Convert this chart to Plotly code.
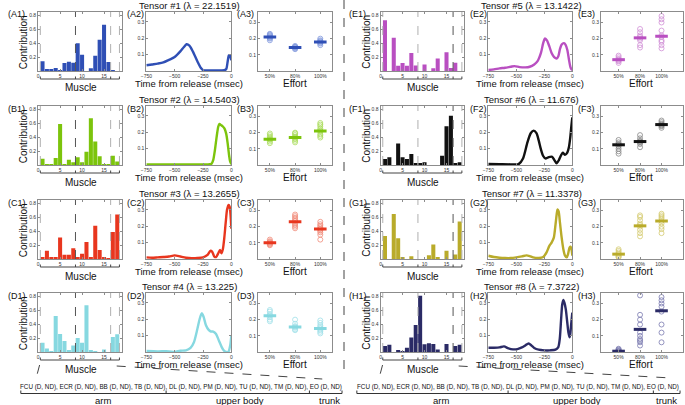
import plotly.graph_objects as go

W, H = 685, 405

letters = ["A", "B", "C", "D", "E", "F", "G", "H"]
lambdas = ["22.1519", "14.5403", "13.2655", "13.225", "13.1422", "11.676", "11.3378", "7.3722"]
colors = ["#2f4fb5", "#7cc40c", "#e8361e", "#86d8e0", "#b94fc1", "#111111", "#b9ab2a", "#2b2b66"]
light = ["#7f97dc", "#a9dc5c", "#f08a78", "#9fe0e8", "#d08fd6", "#888888", "#d4ca70", "#7a7ab0"]

# muscle contributions (muscles 1..18)
muscles = list(range(1, 19))
contrib_1 = [0.14, 0.02, 0.025, 0.045, 0.005, 0.115, 0.135, 0.12, 0.40, 0.235, 0.0, 0.04, 0.22, 0.45, 0.665, 0.13, 0.005, 0.0]
contrib_2 = [0.09, 0.01, 0.01, 0.10, 0.59, 0.01, 0.075, 0.04, 0.11, 0.04, 0.19, 0.675, 0.34, 0.125, 0.01, 0.01, 0.135, 0.05]
contrib_3 = [0.015, 0.12, 0.02, 0.02, 0.31, 0.06, 0.06, 0.155, 0.02, 0.075, 0.245, 0.02, 0.48, 0.13, 0.03, 0.005, 0.39, 0.64]
contrib_4 = [0.135, 0.05, 0.01, 0.52, 0.26, 0.16, 0.02, 0.095, 0.20, 0.135, 0.675, 0.02, 0.005, 0.0, 0.035, 0.0, 0.215, 0.255]
contrib_5 = [0.73, 0.0, 0.48, 0.075, 0.115, 0.075, 0.26, 0.08, 0.0, 0.095, 0.0, 0.04, 0.18, 0.0, 0.27, 0.045, 0.12, 0.0]
contrib_6 = [0.085, 0.11, 0.0, 0.31, 0.11, 0.085, 0.16, 0.02, 0.02, 0.04, 0.0, 0.0, 0.0, 0.135, 0.56, 0.71, 0.02, 0.04]
contrib_7 = [0.33, 0.0, 0.65, 0.30, 0.03, 0.0, 0.04, 0.0, 0.0, 0.0, 0.055, 0.21, 0.02, 0.0, 0.12, 0.0, 0.065, 0.54]
contrib_8 = [0.085, 0.105, 0.0, 0.025, 0.01, 0.06, 0.21, 0.39, 0.81, 0.11, 0.125, 0.115, 0.035, 0.0, 0.115, 0.0, 0.085, 0.105]

# time courses (msec before release, value)
time_1 = [-750, -700, -650, -600, -550, -500, -450, -420, -395, -370, -340, -300, -270, -250, -200, -150, -100, -60, -45, -32, -22, -12, 0]
course_1 = [0.035, 0.040, 0.045, 0.052, 0.068, 0.085, 0.120, 0.145, 0.163, 0.155, 0.120, 0.060, 0.020, 0.006, 0.004, 0.004, 0.004, 0.005, 0.012, 0.060, 0.095, 0.092, 0.065]
time_2 = [-750, -600, -450, -300, -200, -175, -160, -145, -130, -115, -105, -90, -75, -60, -45, -32, -20, -10, 0]
course_2 = [0.003, 0.003, 0.003, 0.003, 0.004, 0.008, 0.03, 0.09, 0.17, 0.235, 0.25, 0.243, 0.235, 0.222, 0.19, 0.13, 0.06, 0.02, 0.005]
time_3 = [-750, -700, -650, -600, -550, -500, -450, -400, -350, -300, -250, -210, -185, -170, -150, -135, -115, -100, -88, -75, -62, -50, -38, -25, -15, -7, 0]
course_3 = [0.010, 0.008, 0.010, 0.012, 0.015, 0.022, 0.015, 0.008, 0.005, 0.006, 0.010, 0.025, 0.050, 0.045, 0.015, 0.012, 0.035, 0.055, 0.035, 0.060, 0.130, 0.220, 0.300, 0.330, 0.320, 0.270, 0.185]
time_4 = [-750, -650, -550, -500, -450, -400, -360, -330, -300, -280, -262, -245, -225, -200, -180, -160, -135, -110, -85, -65, -45, -25, -10, 0]
course_4 = [0.006, 0.004, 0.004, 0.000, 0.008, 0.010, 0.025, 0.060, 0.140, 0.200, 0.236, 0.215, 0.165, 0.135, 0.125, 0.125, 0.110, 0.070, 0.030, 0.008, 0.000, 0.002, 0.040, 0.100]
time_5 = [-750, -700, -650, -600, -550, -515, -470, -420, -380, -340, -310, -280, -260, -244, -225, -205, -185, -162, -140, -125, -110, -95, -75, -60, -45, -30, -15, 0]
course_5 = [0.006, 0.010, 0.016, 0.020, 0.026, 0.030, 0.024, 0.022, 0.026, 0.040, 0.060, 0.110, 0.170, 0.198, 0.185, 0.150, 0.110, 0.085, 0.076, 0.090, 0.135, 0.162, 0.170, 0.160, 0.130, 0.070, 0.020, 0.005]
time_6 = [-750, -650, -550, -480, -440, -400, -370, -345, -320, -300, -280, -260, -240, -210, -180, -160, -140, -120, -100, -85, -65, -45, -30, -18, -8, 0]
course_6 = [0.006, 0.005, 0.004, 0.005, 0.040, 0.140, 0.195, 0.210, 0.195, 0.150, 0.095, 0.055, 0.040, 0.048, 0.050, 0.030, 0.010, 0.030, 0.060, 0.075, 0.062, 0.075, 0.110, 0.170, 0.240, 0.290]
time_7 = [-750, -700, -650, -600, -550, -500, -450, -410, -380, -350, -300, -260, -230, -205, -185, -165, -150, -140, -132, -122, -110, -95, -80, -65, -50, -38, -25, -15, -5, 0]
course_7 = [0.020, 0.012, 0.008, 0.006, 0.006, 0.010, 0.016, 0.022, 0.018, 0.010, 0.006, 0.012, 0.040, 0.080, 0.100, 0.130, 0.210, 0.270, 0.302, 0.290, 0.220, 0.130, 0.060, 0.020, 0.010, 0.030, 0.070, 0.075, 0.050, 0.020]
time_8 = [-750, -700, -650, -610, -570, -530, -490, -450, -420, -390, -365, -340, -300, -250, -200, -150, -125, -112, -100, -90, -80, -70, -58, -45, -35, -25, -18, -10, 0]
course_8 = [0.026, 0.026, 0.028, 0.034, 0.022, 0.016, 0.018, 0.028, 0.040, 0.052, 0.040, 0.025, 0.014, 0.010, 0.010, 0.014, 0.030, 0.080, 0.200, 0.290, 0.318, 0.300, 0.260, 0.180, 0.120, 0.090, 0.110, 0.170, 0.240]

# effort: per-trial values and means for 50%, 80%, 100%
effort_labels = ["50%", "80%", "100%"]
effort_pts_1 = [[0.19, 0.20, 0.205, 0.21, 0.215, 0.22, 0.225, 0.23], [0.135, 0.14, 0.145, 0.148, 0.15, 0.155], [0.16, 0.17, 0.175, 0.18, 0.185, 0.19, 0.2]]
effort_mean_1 = [0.21, 0.145, 0.18]
effort_pts_2 = [[0.135, 0.145, 0.155, 0.16, 0.165, 0.175, 0.185, 0.195], [0.14, 0.15, 0.16, 0.17, 0.175, 0.185, 0.195, 0.2], [0.17, 0.18, 0.19, 0.205, 0.215, 0.225, 0.24, 0.25, 0.26]]
effort_mean_2 = [0.16, 0.17, 0.21]
effort_pts_3 = [[0.085, 0.09, 0.095, 0.1, 0.105, 0.11, 0.12], [0.19, 0.2, 0.21, 0.22, 0.235, 0.245, 0.255, 0.265, 0.275], [0.12, 0.15, 0.165, 0.175, 0.185, 0.195, 0.205, 0.215, 0.23]]
effort_mean_3 = [0.10, 0.23, 0.185]
effort_pts_4 = [[0.19, 0.2, 0.215, 0.225, 0.235, 0.25, 0.26], [0.135, 0.14, 0.15, 0.155, 0.16, 0.175, 0.2], [0.115, 0.125, 0.135, 0.145, 0.155, 0.165, 0.18, 0.195]]
effort_mean_4 = [0.225, 0.155, 0.145]
effort_pts_5 = [[0.05, 0.06, 0.065, 0.07, 0.075, 0.085, 0.095], [0.145, 0.16, 0.19, 0.2, 0.21, 0.22, 0.24, 0.26], [0.14, 0.16, 0.18, 0.19, 0.21, 0.22, 0.25, 0.3, 0.32, 0.34]]
effort_mean_5 = [0.07, 0.205, 0.215]
effort_pts_6 = [[0.07, 0.085, 0.1, 0.115, 0.125, 0.13, 0.14, 0.155], [0.11, 0.13, 0.14, 0.145, 0.15, 0.165, 0.185], [0.23, 0.24, 0.245, 0.25, 0.255, 0.265, 0.275]]
effort_mean_6 = [0.125, 0.145, 0.25]
effort_pts_7 = [[0.01, 0.015, 0.02, 0.03, 0.04, 0.05, 0.06], [0.14, 0.16, 0.18, 0.2, 0.21, 0.22, 0.24, 0.26, 0.27], [0.16, 0.185, 0.2, 0.22, 0.235, 0.25, 0.26, 0.27, 0.28]]
effort_mean_7 = [0.03, 0.205, 0.235]
effort_pts_8 = [[0.003, 0.006, 0.01, 0.015, 0.02], [0.04, 0.06, 0.07, 0.08, 0.1, 0.12, 0.17, 0.2, 0.23, 0.35], [0.06, 0.12, 0.17, 0.25, 0.28, 0.3, 0.32, 0.34]]
effort_mean_8 = [0.005, 0.14, 0.255]

muscle_text = "FCU (D, ND), ECR (D, ND), BB (D, ND), TB (D, ND), DL (D, ND), PM (D, ND), TU (D, ND), TM (D, ND), EO (D, ND)"
group_names = ["arm", "upper body", "trunk"]

contribs = [contrib_1, contrib_2, contrib_3, contrib_4, contrib_5, contrib_6, contrib_7, contrib_8]
times = [time_1, time_2, time_3, time_4, time_5, time_6, time_7, time_8]
courses = [course_1, course_2, course_3, course_4, course_5, course_6, course_7, course_8]
effort_pts = [effort_pts_1, effort_pts_2, effort_pts_3, effort_pts_4, effort_pts_5, effort_pts_6, effort_pts_7, effort_pts_8]
effort_means = [effort_mean_1, effort_mean_2, effort_mean_3, effort_mean_4, effort_mean_5, effort_mean_6, effort_mean_7, effort_mean_8]

FONT = "Liberation Sans, Arial, sans-serif"
BAR_RANGE = [0, 19]
group_edges = [0.5, 8.5, 16.5, 18.5]

cols_left = [(32.5, 117), (142, 228), (255, 330)]
cols_right = [(379, 463.5), (488, 573), (602, 685)]
row_tops = [12, 106, 200, 293]
row_h = 59
effort_range_left = [0.53, 3.47]
effort_range_right = [0.18, 4.0]


def px(x):
    return x / W


def py(y):
    return 1 - y / H


fig = go.Figure()
layout = {}
shapes = []
annotations = []


def ann(text, x, y, size, xanchor="center", yanchor="middle", angle=0, color="#111"):
    annotations.append(dict(text=text, x=px(x), y=py(y), xref="paper", yref="paper",
                            showarrow=False, xanchor=xanchor, yanchor=yanchor,
                            textangle=angle, font=dict(size=size, family=FONT, color=color)))


def line(x0, y0, x1, y1, color="#444", width=1, dash="solid"):
    shapes.append(dict(type="line", xref="paper", yref="paper", x0=px(x0), y0=py(y0),
                       x1=px(x1), y1=py(y1), line=dict(color=color, width=width, dash=dash)))


def axis_style(domain, rng, tickvals, ticktext=None):
    d = dict(domain=domain, range=rng, tickvals=tickvals, showline=True, mirror="ticks",
             linecolor="#8c8c8c", linewidth=1, ticks="inside", ticklen=2, tickcolor="#8c8c8c",
             showgrid=False, zeroline=False, tickfont=dict(size=5, family=FONT, color="#333"))
    if ticktext is not None:
        d["ticktext"] = ticktext
    return d


for k in range(8):
    side = k // 4
    row = k % 4
    cols = cols_left if side == 0 else cols_right
    top = row_tops[row]
    bottom = top + row_h
    c = colors[k]
    L = letters[k]
    ydom = [py(bottom), py(top)]

    # bars
    n = k * 3 + 1
    xa, ya = "x%d" % n, "y%d" % n
    fig.add_trace(go.Bar(x=muscles, y=contribs[k], marker=dict(color=c, line=dict(width=0)),
                         xaxis=xa, yaxis=ya, showlegend=False))
    layout["xaxis%d" % n] = axis_style([px(cols[0][0]), px(cols[0][1])], BAR_RANGE, [0, 5, 10, 15])
    layout["xaxis%d" % n]["anchor"] = ya
    layout["yaxis%d" % n] = axis_style(ydom, [0, 0.85], [0.2, 0.4, 0.6, 0.8])
    layout["yaxis%d" % n]["anchor"] = xa
    for i, e in enumerate(group_edges):
        dark = (i == 1 and side == 0) or (i == 2 and side == 1)
        shapes.append(dict(type="line", xref=xa, yref=ya, x0=e, x1=e, y0=0, y1=0.85,
                           line=dict(color="#555" if dark else "#b0b0b0", width=1, dash="dash")))
    # bracket under muscle axis
    bx0, bx1 = cols[0]
    bpx = [bx0 + (e - BAR_RANGE[0]) / (BAR_RANGE[1] - BAR_RANGE[0]) * (bx1 - bx0) for e in group_edges]
    by = bottom + 8
    line(bpx[0], by, bpx[-1], by, "#444", 1)
    for xx in bpx:
        line(xx, by, xx, by - 2.5, "#444", 1)

    # time course
    n = k * 3 + 2
    xa, ya = "x%d" % n, "y%d" % n
    fig.add_trace(go.Scatter(x=times[k], y=courses[k], mode="lines",
                             line=dict(color=c, width=2.4, shape="spline", smoothing=0.7),
                             xaxis=xa, yaxis=ya, showlegend=False, cliponaxis=True))
    layout["xaxis%d" % n] = axis_style([px(cols[1][0]), px(cols[1][1])], [-750, 0], [-750, -500, -250, 0])
    layout["xaxis%d" % n]["anchor"] = ya
    layout["yaxis%d" % n] = axis_style(ydom, [0, 0.36], [0.1, 0.2, 0.3])
    layout["yaxis%d" % n]["anchor"] = xa

    # effort
    n = k * 3 + 3
    xa, ya = "x%d" % n, "y%d" % n
    for j in range(3):
        pts = effort_pts[k][j]
        fig.add_trace(go.Scatter(x=[j + 1] * len(pts), y=pts, mode="markers",
                                 marker=dict(symbol="circle-open", size=5, color=light[k],
                                             line=dict(width=0.8, color=light[k])),
                                 xaxis=xa, yaxis=ya, showlegend=False))
    fig.add_trace(go.Scatter(x=[1, 2, 3], y=effort_means[k], mode="markers",
                             marker=dict(symbol="line-ew", size=9, color=c, line=dict(width=3, color=c)),
                             xaxis=xa, yaxis=ya, showlegend=False))
    erng = effort_range_left if side == 0 else effort_range_right
    layout["xaxis%d" % n] = axis_style([px(cols[2][0]), px(cols[2][1])], erng, [1, 2, 3], effort_labels)
    layout["xaxis%d" % n]["anchor"] = ya
    layout["yaxis%d" % n] = axis_style(ydom, [0, 0.365], [0.1, 0.2, 0.3])
    layout["yaxis%d" % n]["anchor"] = xa

    # texts
    cx = 186 if side == 0 else 532
    ann("Tensor #%d (λ = %s)" % (k + 1, lambdas[k]), cx, top - 7, 9.5)
    lab_x = [0, 120, 232] if side == 0 else [345, 467, 577]
    for j in range(3):
        ann("(%s%d)" % (L, j + 1), lab_x[j], top + 2.5, 9, xanchor="left")
    ann("Contribution", cols[0][0] - 15, top + 30, 10, angle=-90)
    ann("Muscle", (cols[0][0] + cols[0][1]) / 2 + 1, top + 76, 10)
    ann("Time from release (msec)", (cols[1][0] + cols[1][1]) / 2, top + 71, 9.5)
    effort_cx = (cols[2][0] + cols[2][1]) / 2 if side == 0 else 643
    ann("Effort", effort_cx, top + 71, 10)

# bottom muscle legends
for side in range(2):
    if side == 0:
        tx0, tx1, ticks_x, labs_x = 15, 340, [15, 162, 307, 340], [98, 237, 327]
        conn = [(34, 365, 30, 380), (112, 366, 320, 379)]
    else:
        tx0, tx1, ticks_x, labs_x = 355, 682, [355, 508, 655, 682], [440, 578, 668]
        conn = [(381, 365, 377, 380), (458, 366, 673, 378)]
    ann(muscle_text, (tx0 + tx1) / 2, 387, 6.3)
    line(tx0, 393.5, tx1, 393.5, "#333", 1)
    for xx in ticks_x:
        line(xx, 393.5, xx, 390.5, "#333", 1)
    for lab, xx in zip(group_names, labs_x):
        ann(lab, xx, 400, 9.5)
    for (a, b, c2, d) in conn:
        line(a, b, c2, d, "#444", 1, "dash")

# central divider
line(342, 0, 342, 370, "#444", 1, "dash")

fig.update_layout(width=W, height=H, margin=dict(l=0, r=0, t=0, b=0),
                  paper_bgcolor="white", plot_bgcolor="white", bargap=0.08,
                  shapes=shapes, annotations=annotations, **layout)

fig.write_html("out.html", config={"displayModeBar": False},
               post_script="document.body.style.margin='0px';")
